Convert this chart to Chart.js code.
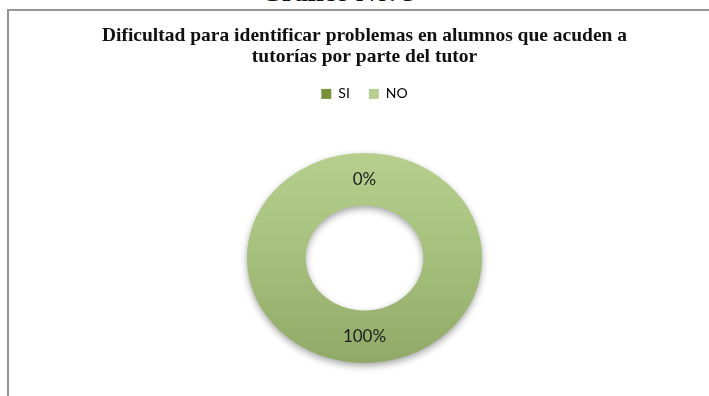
<!DOCTYPE html>
<html lang="es">
<head>
<meta charset="UTF-8" />
<title>Gráfico No. 3</title>
<script src="https://cdn.jsdelivr.net/npm/chart.js"></script>
<style>
  html, body { margin: 0; padding: 0; background: #fff; overflow: hidden; width: 709px; height: 396px; }
  #heading {
    position: absolute; left: 160px; width: 357px; top: -21px;
    font: bold 27px "Liberation Serif", serif; line-height: 27px;
    text-align: center; color: #111;
  }
  #frame {
    position: absolute; left: 7px; top: 9px; width: 740px; height: 420px;
    border-left: 2px solid #959595; border-top: 2px solid #959595;
  }
  #chart { position: absolute; left: 0; top: 0; }
</style>
</head>
<body>
<div id="heading">Gráfico No. 3</div>
<div id="frame">
  <canvas id="chart" width="711" height="394"></canvas>
</div>

<script>
  // Respuestas de los tutores
  const categories = ["SI", "NO"];
  const percentages = [0, 100];
  const legendColors = ["#77933C", "#B7CF92"];
  const titleLines = [
    "Dificultad para identificar problemas en alumnos que acuden a",
    "tutorías por parte del tutor"
  ];

  // the ring is drawn a bit wider than tall
  const STRETCH_X = 1.12;

  function ringFill(context, index) {
    const chart = context.chart;
    if (index === 0) return legendColors[0];
    const area = chart.chartArea;
    if (!area) return legendColors[1];
    const ctrl = chart.getDatasetMeta(0).controller;
    const r = ctrl.outerRadius || 105;
    const cy = (area.top + area.bottom) / 2;
    const g = chart.ctx.createLinearGradient(0, cy - r, 0, cy + r);
    g.addColorStop(0, "#B6CF8E");
    g.addColorStop(0.5, "#A5BF7C");
    g.addColorStop(1, "#91A968");
    return g;
  }

  const ringStyle = {
    id: "ringStyle",
    beforeDatasetsDraw(chart) {
      const arc = chart.getDatasetMeta(0).data[1];
      const ctx = chart.ctx;
      ctx.save();
      ctx.translate(arc.x, arc.y);
      ctx.scale(STRETCH_X, 1);
      ctx.translate(-arc.x, -arc.y);
      ctx.shadowColor = "rgba(0,0,0,0.35)";
      ctx.shadowBlur = 7;
      ctx.shadowOffsetY = 3;
    },
    afterDatasetsDraw(chart) {
      const ctx = chart.ctx;
      ctx.restore();
      // percentage labels in the middle of each slice
      const meta = chart.getDatasetMeta(0);
      ctx.save();
      ctx.font = "17px Lato, sans-serif";
      ctx.fillStyle = "#1d1d1d";
      ctx.textAlign = "center";
      ctx.textBaseline = "middle";
      meta.data.forEach((arc, i) => {
        const p = arc.getProps(["x", "y", "startAngle", "endAngle", "innerRadius", "outerRadius"], true);
        const mid = (p.startAngle + p.endAngle) / 2;
        const r = (p.innerRadius + p.outerRadius) / 2;
        const x = p.x + Math.cos(mid) * r * STRETCH_X;
        const y = p.y + Math.sin(mid) * r;
        ctx.fillText(percentages[i] + "%", x, y);
      });
      ctx.restore();
    }
  };

  new Chart(document.getElementById("chart"), {
    type: "doughnut",
    data: {
      labels: categories,
      datasets: [{
        data: percentages,
        backgroundColor: (c) => ringFill(c, c.dataIndex),
        borderWidth: 0,
        radius: 105,
        hoverOffset: 0
      }]
    },
    options: {
      responsive: false,
      animation: false,
      cutout: "50%",
      layout: { padding: 0 },
      plugins: {
        tooltip: { enabled: false },
        title: {
          display: true,
          text: titleLines,
          color: "#111",
          font: { family: "'Liberation Serif', serif", size: 19.5, weight: "bold", lineHeight: 1.1 },
          padding: { top: 14, bottom: 0 }
        },
        legend: {
          position: "top",
          labels: {
            color: "#404040",
            font: { family: "Lato, sans-serif", size: 14 },
            boxWidth: 10,
            boxHeight: 10,
            padding: 19,
            generateLabels: () => categories.map((name, i) => ({
              text: name,
              fillStyle: legendColors[i],
              strokeStyle: legendColors[i],
              lineWidth: 0,
              index: i,
              datasetIndex: 0
            }))
          }
        }
      }
    },
    plugins: [ringStyle]
  });
</script>
</body>
</html>
